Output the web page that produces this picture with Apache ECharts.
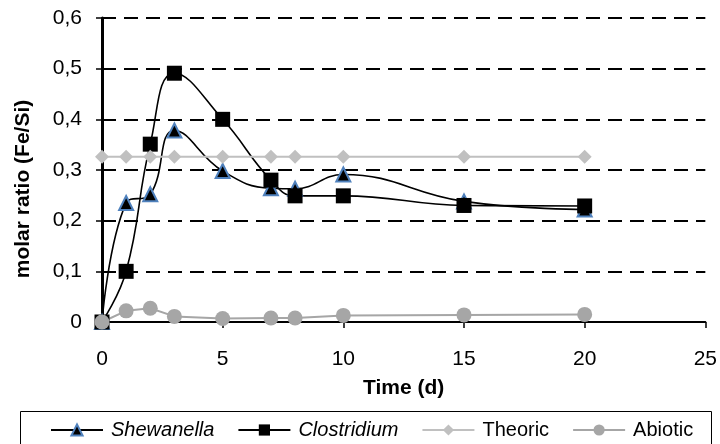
<!DOCTYPE html>
<html>
<head>
<meta charset="utf-8">
<script src="https://cdn.jsdelivr.net/npm/echarts@6/dist/echarts.min.js"></script>
<style>html,body{margin:0;padding:0;background:#fff}#c{width:720px;height:444px}</style>
</head>
<body>
<div id="c"></div>
<script>
var days = [0, 1, 2, 3, 5, 7, 8, 10, 15, 20];
var shewanella = [0, 0.235, 0.252, 0.378, 0.298, 0.264, 0.263, 0.291, 0.238, 0.222];
var clostridium = [0, 0.100, 0.351, 0.491, 0.400, 0.280, 0.249, 0.249, 0.230, 0.229];
var theoric = [0.326, 0.326, 0.326, 0.326, 0.326, 0.326, 0.326, 0.326, 0.326, 0.326];
var abiotic = [0, 0.022, 0.027, 0.011, 0.007, 0.008, 0.008, 0.013, 0.014, 0.015];
var seriesNames = ['Shewanella', 'Clostridium', 'Theoric', 'Abiotic'];

function pairs(xs, ys) { return xs.map(function (x, i) { return [x, ys[i]]; }); }

var font = 'Liberation Sans, Arial, sans-serif';
var chart = echarts.init(document.getElementById('c'), null, {renderer: 'canvas'});
chart.setOption({
  animation: false,
  textStyle: {fontFamily: font},
  grid: {left: 102, right: 12, top: 18, bottom: 122, containLabel: false},
  xAxis: {
    type: 'value', min: 0, max: 25, interval: 5,
    name: 'Time (d)', nameLocation: 'middle', nameGap: 56,
    nameTextStyle: {fontFamily: font, fontSize: 21, fontWeight: 'bold', color: '#000'},
    axisLine: {show: true, onZero: false, lineStyle: {color: '#000', width: 2}},
    axisTick: {show: true, length: 6, lineStyle: {color: '#000', width: 1.5}},
    axisLabel: {fontFamily: font, fontSize: 21, color: '#000', margin: 27},
    splitLine: {show: false}
  },
  yAxis: {
    type: 'value', min: 0, max: 0.6, interval: 0.1,
    axisLine: {show: true, lineStyle: {color: '#000', width: 3}},
    axisTick: {show: true, length: 6, lineStyle: {color: '#000', width: 1.5}},
    axisLabel: {fontFamily: font, fontSize: 21, color: '#000', margin: 20,
      formatter: function (v) { return (Math.round(v * 10) / 10).toString().replace('.', ','); }},
    splitLine: {show: true, lineStyle: {color: '#000', width: 2, type: [14, 8]}}
  },
  legend: {
    left: 50, top: 420, padding: 0, itemWidth: 52, itemHeight: 14, itemGap: 23,
    data: seriesNames,
    formatter: function (n) { return (n === 'Shewanella' || n === 'Clostridium') ? '{i|' + n + '}' : n; },
    textStyle: {fontFamily: font, fontSize: 20, color: '#000', padding: [0, 0, 0, 3],
      rich: {i: {fontFamily: font, fontSize: 20, fontStyle: 'italic', color: '#000'}}}
  },
  graphic: [
    {type: 'rect', shape: {x: 20.5, y: 411.5, width: 691, height: 40}, style: {fill: 'none', stroke: '#000', lineWidth: 1}, z: 1},
    {type: 'text', x: 23, y: 189, rotation: Math.PI / 2,
      style: {text: 'molar ratio (Fe/Si)', fontFamily: font, fontSize: 21, fontWeight: 'bold', fill: '#000', align: 'center', verticalAlign: 'middle'}}
  ],
  series: [
    {name: 'Shewanella', type: 'line', data: pairs(days, shewanella), smooth: 0.45,
      symbol: 'triangle', symbolSize: 14,
      lineStyle: {color: '#000', width: 1.6},
      itemStyle: {color: '#000', borderColor: '#4F81BD', borderWidth: 2}},
    {name: 'Clostridium', type: 'line', data: pairs(days, clostridium), smooth: 0.45,
      symbol: 'rect', symbolSize: 15,
      lineStyle: {color: '#000', width: 1.6},
      itemStyle: {color: '#000', borderColor: '#000', borderWidth: 0}},
    {name: 'Theoric', type: 'line', data: pairs(days, theoric),
      symbol: 'diamond', symbolSize: 14,
      lineStyle: {color: '#C0C0C0', width: 2},
      itemStyle: {color: '#C0C0C0', borderWidth: 0}},
    {name: 'Abiotic', type: 'line', data: pairs(days, abiotic),
      symbol: 'circle', symbolSize: 15,
      lineStyle: {color: '#A6A6A6', width: 2},
      itemStyle: {color: '#A6A6A6', borderWidth: 0}}
  ]
});
</script>
</body>
</html>
